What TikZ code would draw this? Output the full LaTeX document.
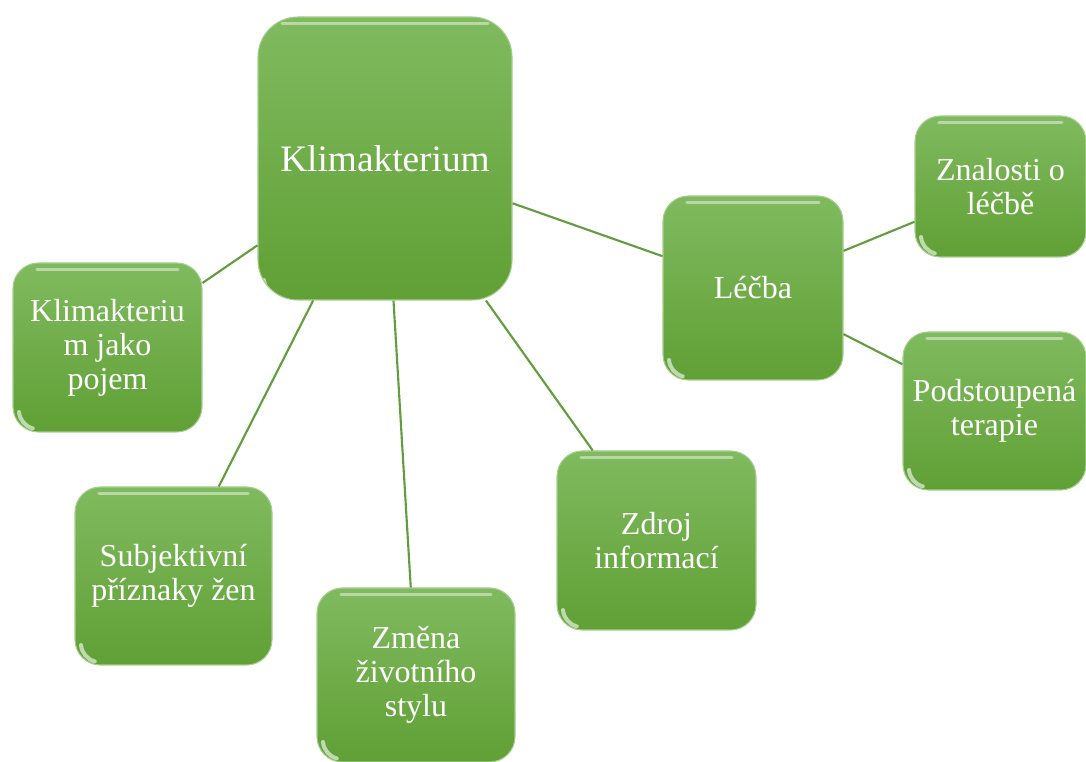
\documentclass[tikz,border=0pt]{standalone}
\usepackage{fontspec}
\setmainfont{Liberation Serif}
\definecolor{gtop}{HTML}{80BA5F}
\definecolor{gbot}{HTML}{60A035}
\definecolor{gline}{HTML}{629D3F}
\begin{document}
\begin{tikzpicture}[x=0.75pt,y=-0.75pt,
  box/.style={rounded corners=19pt, top color=gtop, bottom color=gbot, draw=gtop!70!white, line width=0.8pt,
    text=white, align=center, inner sep=0pt, font=\fontsize{24}{25.5}\selectfont,
    path picture={\draw[white,opacity=0.45,line width=2.5pt,line cap=round]
      ([xshift=18pt,yshift=-5pt]path picture bounding box.north west) --
      ([xshift=-18pt,yshift=-5pt]path picture bounding box.north east);
      \draw[white,opacity=0.6,line width=3pt,line cap=round]
      ([xshift=4.5pt,yshift=15pt]path picture bounding box.south west)
      arc[start angle=185,end angle=255,radius=14pt];}},
  link/.style={draw=gline, line width=1.6pt}]
\useasboundingbox (0,0) rectangle (1086,762);
\node[box, rounded corners=30pt, minimum width=190.5pt, minimum height=212.25pt, font=\fontsize{28}{30}\selectfont] (k) at (385,158.5) {Klimakterium};
\node[box, minimum width=141.75pt, minimum height=126.75pt] (p) at (107.5,347.5) {Klimakteriu\\m jako\\pojem};
\node[box, minimum width=147.75pt, minimum height=133.5pt] (s) at (173.5,576) {Subjektivní\\příznaky žen};
\node[box, minimum width=148.5pt, minimum height=130.5pt] (z) at (416,675) {Změna\\životního\\stylu};
\node[box, minimum width=149.25pt, minimum height=134.25pt] (i) at (656.5,540.5) {Zdroj\\informací};
\node[box, minimum width=135pt, minimum height=138pt] (l) at (753,288) {Léčba};
\node[box, minimum width=128.25pt, minimum height=105.75pt] (zn) at (1000.5,186.5) {Znalosti o\\léčbě};
\node[box, minimum width=137.25pt, minimum height=118.5pt] (t) at (994.5,411) {Podstoupená\\terapie};
\draw[link] (k) -- (p);
\draw[link] (k) -- (s);
\draw[link] (k) -- (z);
\draw[link] (k) -- (i);
\draw[link] (k) -- (l);
\draw[link] (l) -- (zn);
\draw[link] (l) -- (t);
\end{tikzpicture}
\end{document}
